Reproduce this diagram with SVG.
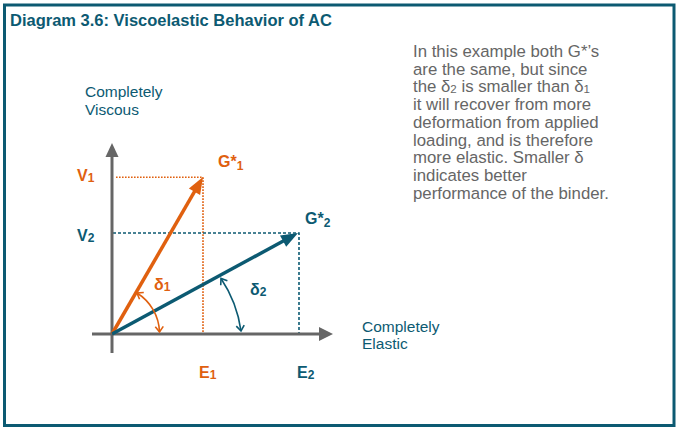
<svg xmlns="http://www.w3.org/2000/svg" width="680" height="432" viewBox="0 0 680 432">
<style>
  .t{font-family:"Liberation Sans",Arial,sans-serif}
  .teal{fill:#0c5a72}
  .orng{fill:#e0600f}
  .lab{font-size:16px;font-weight:bold}
  .ax{font-size:15.5px}
  .par{font-size:16.8px;fill:#666}
  .sub{font-size:11.5px}
  .axis{stroke:#666;stroke-width:3;fill:none}
</style>
<defs>
  <marker id="chevO" markerUnits="userSpaceOnUse" markerWidth="10" markerHeight="10" viewBox="0 0 10 10" refX="7" refY="5" orient="auto-start-reverse">
    <path d="M1.5,1 L7,5 L1.5,9" fill="none" stroke="#e0600f" stroke-width="1.6"/>
  </marker>
  <marker id="chevT" markerUnits="userSpaceOnUse" markerWidth="10" markerHeight="10" viewBox="0 0 10 10" refX="7" refY="5" orient="auto-start-reverse">
    <path d="M1.5,1 L7,5 L1.5,9" fill="none" stroke="#0c5a72" stroke-width="1.6"/>
  </marker>
</defs>
<rect x="4.5" y="5" width="669.5" height="420.5" fill="#fff" stroke="#0c5a72" stroke-width="3"/>
<text class="t teal" x="10" y="26" font-size="16.5" font-weight="bold">Diagram 3.6: Viscoelastic Behavior of AC</text>

<g id="note">
  <text class="t par" x="413" y="57">In this example both G*’s</text>
  <text class="t par" x="413" y="74.7">are the same, but since</text>
  <text class="t par" x="413" y="92.4">the δ<tspan class="sub" dy="1">2</tspan><tspan dy="-1"> is smaller than δ</tspan><tspan class="sub" dy="1">1</tspan></text>
  <text class="t par" x="413" y="110">it will recover from more</text>
  <text class="t par" x="413" y="127.8">deformation from applied</text>
  <text class="t par" x="413" y="145.5">loading, and is therefore</text>
  <text class="t par" x="413" y="163.2">more elastic. Smaller δ</text>
  <text class="t par" x="413" y="181">indicates better</text>
  <text class="t par" x="413" y="198.7">performance of the binder.</text>
</g>

<g id="connectors">
  <!-- projections -->
  <path d="M116,177.3 H203 V334" fill="none" stroke="#e0600f" stroke-width="1.6" stroke-dasharray="1.6,1.4"/>
  <path d="M113,233 H299 V334" fill="none" stroke="#0c5a72" stroke-width="1.6" stroke-dasharray="3,2"/>
  <!-- axes -->
  <line class="axis" x1="112" y1="353" x2="112" y2="156"/>
  <polygon points="105.5,157 112,143 118.5,157" fill="#666"/>
  <line class="axis" x1="92" y1="334" x2="320" y2="334"/>
  <polygon points="319,327 333,334 319,341" fill="#666"/>
  <!-- vectors -->
  <line x1="112" y1="334" x2="196.5" y2="188.2" stroke="#e0600f" stroke-width="3.5"/>
  <polygon points="203,177 200.1,195 188.9,188.4" fill="#e0600f"/>
  <line x1="112" y1="334" x2="286.5" y2="239.3" stroke="#0c5a72" stroke-width="3.5"/>
  <polygon points="298,233 286.2,246.8 280,235.4" fill="#0c5a72"/>
  <!-- angle arcs -->
  <path d="M137,293 A48,48 0 0,1 159.5,332" fill="none" stroke="#e0600f" stroke-width="1.6" marker-start="url(#chevO)" marker-end="url(#chevO)"/>
  <path d="M221,278.5 A125,125 0 0,1 241,331" fill="none" stroke="#0c5a72" stroke-width="1.6" marker-start="url(#chevT)" marker-end="url(#chevT)"/>
</g>

<g id="axis-labels">
  <text class="t teal ax" x="85" y="97.3">Completely</text>
  <text class="t teal ax" x="85" y="115">Viscous</text>
  <text class="t teal ax" x="362" y="331.7">Completely</text>
  <text class="t teal ax" x="362" y="349">Elastic</text>
</g>

<g id="G1">
  <text class="t orng lab" x="218" y="167">G*<tspan font-size="12" dy="3">1</tspan></text>
  <text class="t orng lab" x="77" y="181">V<tspan font-size="12" dy="1">1</tspan></text>
  <text class="t orng lab" x="199" y="378">E<tspan font-size="12" dy="1">1</tspan></text>
  <text class="t orng lab" x="154" y="290">δ<tspan font-size="12" dy="1">1</tspan></text>
</g>
<g id="G2">
  <text class="t teal lab" x="305" y="224">G*<tspan font-size="12" dy="3">2</tspan></text>
  <text class="t teal lab" x="77" y="241">V<tspan font-size="12" dy="1">2</tspan></text>
  <text class="t teal lab" x="297" y="378">E<tspan font-size="12" dy="1">2</tspan></text>
  <text class="t teal lab" x="250" y="295">δ<tspan font-size="12" dy="1">2</tspan></text>
</g>
</svg>
